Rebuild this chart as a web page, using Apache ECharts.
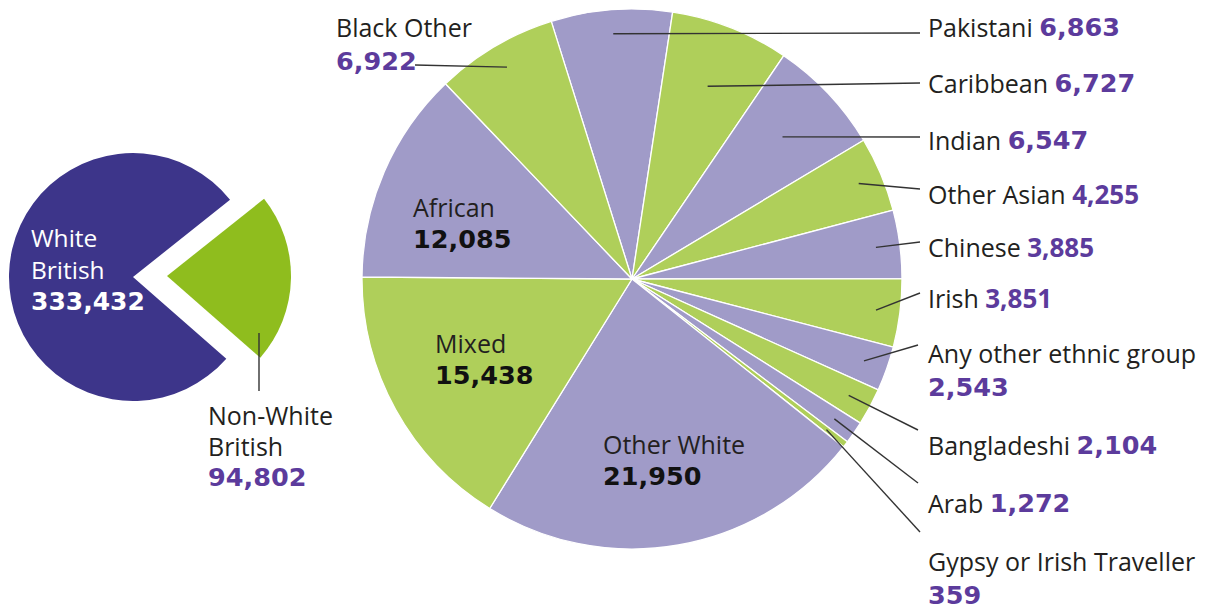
<!DOCTYPE html>
<html><head><meta charset="utf-8">
<script src="https://cdn.jsdelivr.net/npm/echarts@6/dist/echarts.min.js"></script>
<style>html,body{margin:0;padding:0;background:#fff}#c{width:1215px;height:609px}</style>
</head><body><div id="c"></div>
<script>
// ---- data ----
const overviewNames = ['Non-White British', 'White British'];
const overviewValues = [94802, 333432];
const groupNames = ['Pakistani','Caribbean','Indian','Other Asian','Chinese','Irish',
  'Any other ethnic group','Bangladeshi','Arab','Gypsy or Irish Traveller',
  'Other White','Mixed','African','Black Other'];
const groupValues = [6863,6727,6547,4255,3885,3851,2543,2104,1272,359,21950,15438,12085,6922];
const insideGroups = ['Other White','Mixed','African'];
const twoLineGroups = ['Any other ethnic group','Gypsy or Irish Traveller','Black Other'];
const lightNumberGroups = ['Other Asian','Chinese','Irish'];

// ---- styles / layout ----
const FONT = '"Open Sans"';
const NUMFONT = '"DejaVu Sans"';
const C_DARK = '#231f20', C_NUM = '#5c3b9c';
const C_LAV = '#a09bc8', C_GREEN = '#afcf5a';
const C_WB = '#3d358a', C_NWB = '#8fbd1e';
const LINE = {color: '#333', width: 1.4};
const fmt = v => v.toLocaleString('en-US');

const rightCenter = [632, 279], rightR = 270, anchorR = 246, startAng = 107.4;
const nearAnchor = {'Caribbean': 207, 'Indian': 207};
// label placement: [left x, first-line centre y, line end x, line end y]
const spots = {
  'Pakistani': [928, 27, 920, 33],
  'Caribbean': [928, 83, 920, 83],
  'Indian': [928, 140, 920, 137],
  'Other Asian': [928, 194, 920, 189],
  'Chinese': [928, 247, 920, 242],
  'Irish': [928, 298, 920, 293],
  'Any other ethnic group': [928, 353, 918, 345],
  'Bangladeshi': [928, 445, 918, 430],
  'Arab': [928, 503, 918, 483],
  'Gypsy or Irish Traveller': [928, 561, 920, 532],
  'Black Other': [336, 27, 415, 65],
  'African': [413, 207],
  'Mixed': [435, 343],
  'Other White': [603, 444]
};
const LH_OUT = 34, LH_IN = 32;

// mid-angle of each slice (same geometry the pie uses) -> anchor for leader lines
const total = groupValues.reduce((a, b) => a + b, 0);
function anchorOf(i, r) {
  let cum = 0;
  for (let k = 0; k < i; k++) cum += groupValues[k];
  const ang = (startAng - (cum + groupValues[i] / 2) / total * 360) * Math.PI / 180;
  return [rightCenter[0] + r * Math.cos(ang), rightCenter[1] - r * Math.sin(ang)];
}

const chart = echarts.init(document.getElementById('c'), null, {renderer: 'svg'});

const mainData = groupNames.map((n, i) => ({
  name: n, value: groupValues[i],
  itemStyle: {color: i % 2 === 0 ? C_LAV : C_GREEN}
}));

const labelData = groupNames.map((n, i) => {
  const inside = insideGroups.includes(n);
  const two = twoLineGroups.includes(n);
  const vs = lightNumberGroups.includes(n) ? 'vl' : 'v';
  return {
    name: n, value: groupValues[i],
    label: inside ? {
      show: true, position: 'inside',
      formatter: '{n|' + n + '}\n{b|' + fmt(groupValues[i]) + '}',
      lineHeight: LH_IN
    } : {
      show: true, position: 'outside',
      formatter: '{n|' + n + (two ? '}\n' : ' }') + '{' + vs + '|' + fmt(groupValues[i]) + '}',
      lineHeight: LH_OUT
    },
    labelLine: {show: !inside}
  };
});

const richStyles = {
  n: {fontFamily: FONT, fontSize: 25, color: C_DARK, align: 'left'},
  v: {fontFamily: NUMFONT, fontSize: 25.5, fontWeight: 'bold', color: C_NUM, align: 'left'},
  vl: {fontFamily: FONT, fontSize: 26, fontWeight: 'bold', color: C_NUM, align: 'left'},
  b: {fontFamily: NUMFONT, fontSize: 25.5, fontWeight: 'bold', color: '#111', align: 'left'},
  w: {fontFamily: FONT, fontSize: 24.5, color: '#fff', align: 'left'},
  wb: {fontFamily: NUMFONT, fontSize: 25, fontWeight: 'bold', color: '#fff', align: 'left'}
};

const transparent = 'rgba(0,0,0,0)';

chart.setOption({
  animation: false,
  series: [
    // left pie, exploded Non-White British part
    {
      type: 'pie', silent: true, z: 1,
      center: [167, 276], radius: 124,
      startAngle: 38.5, clockwise: true,
      avoidLabelOverlap: false,
      itemStyle: {borderWidth: 0},
      label: {show: false}, labelLine: {show: false},
      data: [
        {name: overviewNames[0], value: overviewValues[0], itemStyle: {color: C_NWB}},
        {name: overviewNames[1], value: overviewValues[1], itemStyle: {color: transparent}}
      ]
    },
    // left pie, White British part (+ both labels)
    {
      type: 'pie', silent: true, z: 3,
      center: [133, 277], radius: 124,
      startAngle: 38.5, clockwise: true,
      avoidLabelOverlap: false,
      itemStyle: {borderWidth: 0},
      labelLine: {lineStyle: LINE},
      data: [
        {name: overviewNames[0], value: overviewValues[0],
         itemStyle: {color: transparent},
         label: {show: true, position: 'outside',
           formatter: '{n|Non-White}\n{n|British}\n{v|' + fmt(overviewValues[0]) + '}',
           lineHeight: 31, rich: richStyles},
         labelLine: {show: true}},
        {name: overviewNames[1], value: overviewValues[1],
         itemStyle: {color: C_WB},
         label: {show: true, position: 'inside',
           formatter: '{w|White}\n{w|British}\n{wb|' + fmt(overviewValues[1]) + '}',
           lineHeight: 32, rich: richStyles},
         labelLine: {show: false}}
      ],
      labelLayout: function (p) {
        if (p.dataIndex === 1) {
          return {x: 31, y: 221, align: 'left', verticalAlign: 'top'};
        }
        return {x: 208, y: 399, align: 'left', verticalAlign: 'top',
                labelLinePoints: [[259, 333], [259, 391]]};
      }
    },
    // right pie
    {
      type: 'pie', silent: true, z: 2,
      center: rightCenter, radius: rightR,
      startAngle: startAng, clockwise: true,
      itemStyle: {borderColor: '#fff', borderWidth: 1.3},
      label: {show: false}, labelLine: {show: false},
      data: mainData
    },
    // right pie labels and leader lines (transparent sectors, drawn above)
    {
      type: 'pie', silent: true, z: 4,
      center: rightCenter, radius: anchorR,
      startAngle: startAng, clockwise: true,
      avoidLabelOverlap: false,
      itemStyle: {color: transparent, borderWidth: 0},
      label: {rich: richStyles},
      labelLine: {length: 10, length2: 10, lineStyle: LINE},
      data: labelData,
      labelLayout: function (p) {
        const n = groupNames[p.dataIndex];
        const s = spots[n];
        if (insideGroups.includes(n)) {
          return {x: s[0], y: s[1] - LH_IN / 2, align: 'left', verticalAlign: 'top'};
        }
        const a = anchorOf(p.dataIndex, nearAnchor[n] || anchorR);
        return {x: s[0], y: s[1] - LH_OUT / 2, align: 'left', verticalAlign: 'top',
                labelLinePoints: [a, [s[2], s[3]]]};
      }
    }
  ]
});
</script>
</body></html>
